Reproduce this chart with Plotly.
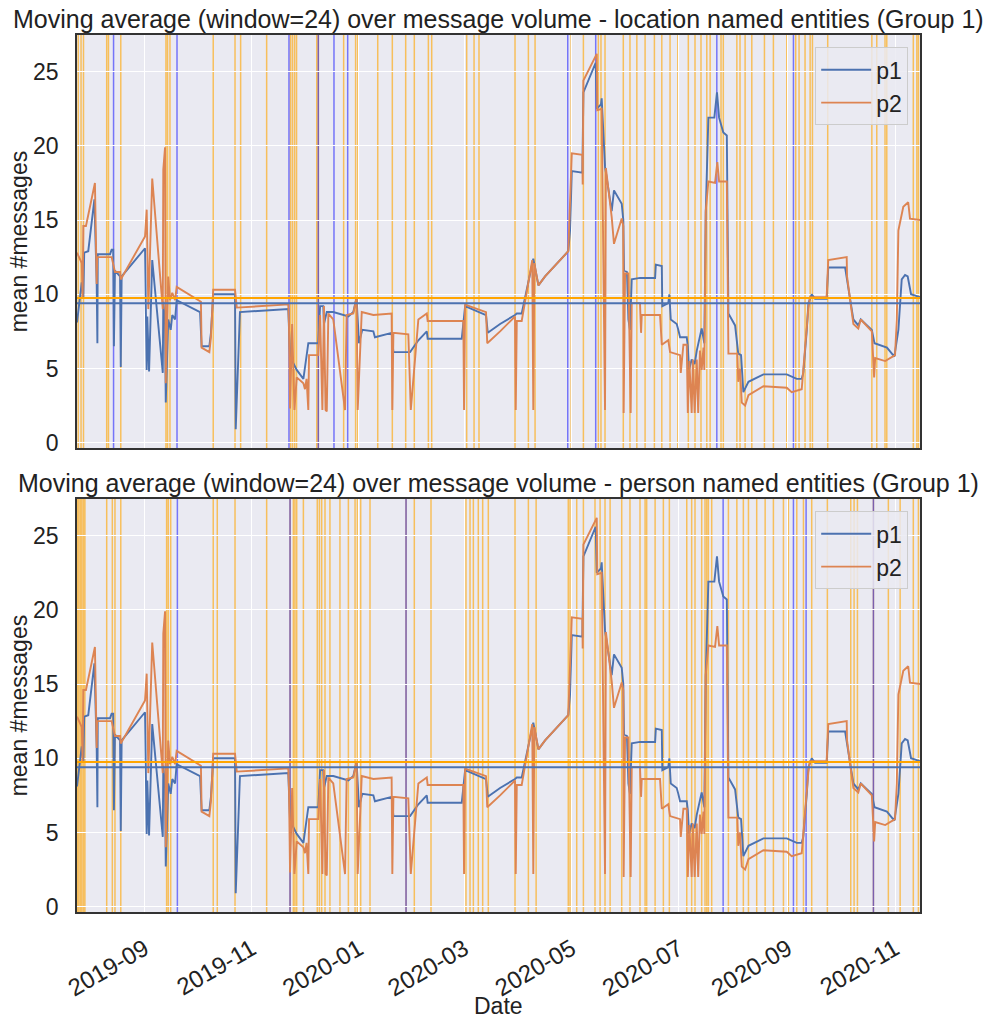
import pandas as pd
import plotly.graph_objects as go

base_date = "2019-09-01"

# x positions stored as days relative to base_date
x_start_day = -38.4
x_end_day = 441.2

p1_day = [-38.4, -36.7, -35.7, -34.8, -34.3, -32.0, -28.5, -27.2, -26.8, -26.6, -19.6, -18.7, -17.8, -17.4, -16.8,
          -13.9, -13.5, -13.0, 0.3, 1.25, 1.6, 2.6, 4.4, 10.4, 10.7, 11.7, 12.1, 13.5, 14.9, 15.8, 17.4, 18.3,
          31.6, 32.5, 36.9, 37.8, 39.1, 51.5, 51.9, 54.3, 79.9, 81.8, 82.8, 86.6, 90.4, 93.2, 98.9, 99.9, 101.7,
          102.1, 103.7, 107.4, 116.0, 118.8, 120.7, 122.0, 123.9, 130.2, 131.1, 140.6, 141.6, 151.1, 155.8, 160.6,
          161.1, 180.5, 182.4, 194.3, 195.3, 202.3, 210.8, 211.8, 214.6, 221.2, 224.1, 227.9, 241.1, 242.1, 243.1,
          249.1, 249.7, 256.7, 257.3, 259.7, 260.1, 262.0, 265.8, 267.1, 271.5, 272.4, 272.8, 274.5, 275.3, 276.2,
          277.2, 281.9, 290.5, 290.9, 294.3, 294.6, 298.0, 298.6, 299.4, 302.8, 303.7, 304.7, 308.5, 309.1, 309.8,
          311.3, 313.0, 314.2, 317.0, 318.5, 319.3, 319.9, 320.8, 324.2, 325.7, 326.9, 329.3, 331.3, 332.2, 336.0,
          337.8, 339.4, 340.7, 343.6, 352.1, 365.4, 371.1, 373.9, 374.8, 376.8, 377.7, 379.6, 381.5, 388.1, 389.0,
          398.6, 399.5, 401.8, 403.3, 406.1, 407.5, 413.8, 415.3, 420.5, 422.4, 426.6, 428.9, 430.8, 432.7, 434.2,
          436.1, 441.2]
p1_val = [8.1, 9.6, 10.8, 9.8, 12.8, 12.9, 16.4, 10.7, 6.7, 12.7, 12.7, 13.0, 13.0, 6.5, 11.6,
          11.2, 5.1, 11.2, 13.1, 4.9, 8.5, 4.8, 12.3, 4.7, 9.5, 8.0, 2.7, 8.3, 7.6, 8.6, 8.3, 9.6,
          8.8, 6.5, 6.5, 7.4, 10.0, 10.0, 0.9, 8.8, 9.0, 9.0, 5.8, 4.9, 4.3, 6.7, 6.7, 9.2, 9.2,
          8.0, 8.8, 8.8, 8.5, 8.8, 9.8, 6.7, 7.6, 7.5, 7.1, 7.4, 6.1, 6.1, 6.9, 7.5,
          7.0, 7.0, 9.2, 8.6, 7.4, 8.0, 8.6, 8.7, 8.7, 12.4, 10.6, 11.2, 12.9, 14.3, 18.3,
          18.2, 23.6, 25.6, 22.5, 22.8, 23.2, 18.6, 15.6, 17.0, 16.1, 15.0, 11.6, 11.5, 8.3, 7.6,
          11.0, 11.1, 11.1, 12.0, 11.9, 9.2, 9.4, 10.0, 8.3, 8.0, 7.6, 7.1, 7.1, 6.5, 4.9,
          5.6, 5.3, 6.2, 7.7, 6.7, 15.5, 18.8, 21.9, 21.9, 23.6, 21.9, 20.9, 20.7, 8.7, 7.9,
          6.0, 5.9, 3.4, 4.1, 4.6, 4.6, 4.3, 4.3, 4.7, 7.6, 9.4, 10.0, 9.7, 9.7, 11.8,
          11.8, 11.2, 9.4, 8.3, 7.9, 8.3, 7.6, 6.7, 6.5, 6.4, 5.8, 7.6, 11.0, 11.3, 11.2,
          10.0, 9.8]

p2_day = [-38.4, -35.7, -35.2, -34.8, -33.3, -28.2, -27.2, -26.9, -18.7, -16.8, -13.9, -13.5, 0.3, 1.25, 2.2,
          4.4, 10.4, 10.7, 11.7, 12.1, 13.5, 14.5, 15.8, 17.4, 18.3, 32.1, 32.5, 36.9, 37.8, 39.1, 51.5, 52.5,
          79.9, 81.8, 82.2, 82.8, 84.0, 85.3, 86.6, 90.4, 91.3, 92.2, 93.2, 93.6, 98.9, 99.9, 101.2, 102.1, 103.0,
          103.7, 104.6, 107.4, 114.1, 115.0, 118.8, 120.7, 121.3, 123.6, 130.2, 140.6, 141.0, 141.6, 150.1, 151.5,
          155.8, 160.6, 161.1, 181.4, 181.8, 182.4, 194.3, 195.0, 202.3, 210.8, 211.2, 211.8, 214.6, 220.6, 221.2,
          221.8, 224.1, 227.9, 241.1, 243.1, 249.1, 249.3, 249.7, 257.3, 257.6, 260.1, 262.0, 262.5, 265.8, 267.1,
          271.5, 272.4, 272.6, 273.4, 275.3, 276.6, 277.2, 281.9, 282.5, 282.9, 293.3, 294.3, 298.0, 299.0, 304.7,
          305.1, 306.6, 308.5, 309.1, 310.0, 311.3, 312.0, 313.0, 314.2, 315.0, 316.0, 317.0, 318.0, 318.5, 319.3,
          320.8, 324.6, 325.9, 326.9, 331.3, 332.2, 337.3, 337.8, 338.8, 339.8, 341.7, 343.6, 352.1, 365.4, 368.2,
          373.9, 377.7, 378.6, 388.1, 389.0, 399.5, 399.7, 401.8, 403.3, 406.1, 407.5, 413.8, 415.1, 415.7, 421.4,
          427.0, 428.0, 428.9, 431.7, 434.5, 435.5, 441.2]
p2_val = [12.8, 12.1, 9.8, 14.6, 14.6, 17.5, 10.7, 12.5, 12.5, 11.5, 11.5, 11.0, 13.9, 15.7, 9.0,
          17.8, 9.0, 18.4, 19.9, 4.0, 11.2, 9.6, 10.1, 9.6, 10.5, 9.5, 6.4, 6.1, 7.1, 10.3, 10.3, 9.1,
          9.3, 9.3, 8.0, 2.3, 8.0, 2.2, 4.4, 4.0, 3.6, 4.3, 2.2, 5.9, 5.9, 8.6, 2.2, 9.2, 2.2,
          2.1, 8.7, 8.3, 2.2, 8.6, 8.7, 9.8, 2.2, 8.8, 8.6, 8.7, 2.2, 7.4, 7.3, 2.2,
          8.3, 8.7, 8.2, 8.2, 2.2, 9.3, 8.8, 6.7, 7.5, 8.5, 2.2, 8.2, 8.2, 12.3, 2.2,
          12.1, 10.6, 11.2, 12.9, 19.5, 19.4, 17.4, 24.4, 26.2, 22.4, 22.5, 2.2, 18.5, 15.2, 13.4,
          15.1, 14.6, 2.0, 11.4, 11.4, 2.0, 9.4, 9.4, 7.4, 8.6, 8.6, 6.6, 6.9, 6.1, 5.9,
          4.7, 6.6, 6.6, 2.0, 5.5, 2.0, 5.6, 2.0, 5.6, 2.0, 6.2, 4.9, 6.4, 4.9, 15.6,
          17.6, 17.5, 18.9, 17.6, 17.6, 6.0, 6.0, 4.1, 5.0, 2.7, 2.5, 3.2, 3.8, 3.7, 3.4,
          3.6, 9.1, 9.8, 9.8, 12.3, 12.5, 11.2, 9.3, 8.0, 7.7, 8.3, 7.5, 4.4, 5.7, 5.5,
          5.9, 8.3, 14.3, 15.9, 16.2, 15.1, 15.0]

p1_mean = 9.4
p2_mean = 9.75

# anomaly markers (days relative to base_date)
orange_top_day = [-37.7, -36.1, -34.7, -21.5, -20.5, -13.5, 12.2, 13.1, 14.5, 39.1, 51.5, 54.7, 69.5, 83.1,
                  84.2, 85.4, 86.5, 98.0, 98.9, 113.3, 120.1, 121.3, 132.7, 141.0, 148.6, 153.5, 161.5, 163.4,
                  183.3, 187.5, 190.3, 210.8, 218.4, 222.2, 242.7, 249.7, 258.2, 259.7, 262.0, 272.4, 276.2,
                  280.1, 284.8, 290.1, 294.3, 299.0, 303.4, 309.4, 313.2, 316.6, 319.9, 321.8, 328.0, 329.3,
                  337.0, 338.8, 341.7, 345.5, 352.7, 357.8, 365.4, 370.5, 372.4, 375.8, 378.7, 380.0, 388.7,
                  413.8, 416.6, 421.3, 422.3, 437.4, 439.4, 440.3]
blue_top_day = [-17.6, 18.5, 82.2, 98.9, 107.8, 115.6, 240.8, 256.7, 325.6, 369.2]

orange_bot_day = [-38.1, -37.3, -36.4, -35.6, -34.7, -33.9, -21.5, -18.3, -16.8, -13.5, 12.6, 13.5, 14.9, 39.1,
                  41.4, 51.5, 69.5, 82.8, 84.7, 85.6, 86.6, 90.4, 98.3, 99.5, 100.8, 102.7, 105.5, 111.2, 116.0,
                  119.8, 121.1, 123.0, 128.3, 148.8, 153.5, 163.0, 182.9, 185.2, 187.1, 189.9, 192.4, 195.6,
                  210.8, 218.4, 222.8, 241.1, 242.1, 245.9, 249.7, 256.3, 259.2, 262.0, 264.9, 271.5, 276.2,
                  281.9, 284.8, 285.7, 290.5, 295.2, 298.6, 308.5, 311.3, 313.2, 317.0, 318.9, 319.9, 320.8,
                  322.7, 332.2, 337.0, 340.7, 343.6, 348.3, 353.1, 357.8, 363.5, 366.3, 371.1, 374.9, 379.6,
                  388.5, 401.8, 403.7, 405.6, 414.7, 423.2, 429.9, 437.4, 440.3]
blue_bot_day = [18.7, 82.8, 148.8, 329.2, 369.2, 376.4, 414.7]

x_tick_vals = ["2019-09-01", "2019-11-01", "2020-01-01", "2020-03-01", "2020-05-01", "2020-07-01",
               "2020-09-01", "2020-11-01"]
x_tick_text = ["2019-09", "2019-11", "2020-01", "2020-03", "2020-05", "2020-07", "2020-09", "2020-11"]
y_tick_vals = [0, 5, 10, 15, 20, 25]
y_range = [-0.36, 27.47]

titles = ["Moving average (window=24) over message volume - location named entities (Group 1)",
          "Moving average (window=24) over message volume - person named entities (Group 1)"]
series_names = ["p1", "p2"]
y_label = "mean #messages"
x_label = "Date"

C_P1 = "#4C72B0"
C_P2 = "#DD8452"
C_ORANGE = "rgba(255,165,0,0.62)"
C_BLUE = "rgba(0,0,255,0.5)"
BG = "#EAEAF2"
FONT = "Liberation Sans, Arial, sans-serif"
FS = 23
FS_TITLE = 25
FS_XTICK = 24


def to_dates(days):
    return pd.Timestamp(base_date) + pd.to_timedelta(pd.Series(days, dtype=float), unit="D")


H = 1018
top_px, bot_px = 35, 912
plot_h = bot_px - top_px
d_top = [(bot_px - 448) / plot_h, 1.0]
d_bot = [0.0, (bot_px - 499) / plot_h]

fig = go.Figure()
axes = [("x", "y", "legend"), ("x2", "y2", "legend2")]
for xa, ya, lg in axes:
    fig.add_trace(go.Scatter(x=to_dates(p1_day), y=p1_val, mode="lines", name=series_names[0],
                             line=dict(color=C_P1, width=1.9), xaxis=xa, yaxis=ya, legend=lg))
    fig.add_trace(go.Scatter(x=to_dates(p2_day), y=p2_val, mode="lines", name=series_names[1],
                             line=dict(color=C_P2, width=1.9), xaxis=xa, yaxis=ya, legend=lg))

shapes = []
vsets = [("x", "y", d_top, orange_top_day, blue_top_day), ("x2", "y2", d_bot, orange_bot_day, blue_bot_day)]
for xa, ya, dom, od, bd in vsets:
    for d, col in [(d, C_ORANGE) for d in od] + [(d, C_BLUE) for d in bd]:
        t = to_dates([d]).iloc[0].isoformat()
        shapes.append(dict(type="line", xref=xa, yref="paper", x0=t, x1=t, y0=dom[0], y1=dom[1],
                           line=dict(color=col, width=1.5), layer="below"))
    for m, col in [(p2_mean, "#FFA500"), (p1_mean, C_P1)]:
        shapes.append(dict(type="line", xref="paper", yref=ya, x0=0, x1=1, y0=m, y1=m,
                           line=dict(color=col, width=2), layer="above"))

x_range = [to_dates([x_start_day]).iloc[0].isoformat(), to_dates([x_end_day]).iloc[0].isoformat()]

axis_common = dict(showgrid=True, gridcolor="white", gridwidth=1.2, zeroline=False, showline=True,
                   linecolor="#333333", linewidth=1.5, mirror=True, ticks="")

fig.update_layout(
    width=987, height=1018,
    margin=dict(l=77, r=67, t=top_px, b=H - bot_px),
    paper_bgcolor="white", plot_bgcolor=BG,
    font=dict(family=FONT, size=FS, color="#222222"),
    shapes=shapes,
    xaxis=dict(axis_common, domain=[0, 1], anchor="y", range=x_range, tickvals=x_tick_vals,
               ticktext=x_tick_text, showticklabels=False),
    yaxis=dict(axis_common, domain=d_top, anchor="x", range=y_range, tickvals=y_tick_vals,
               ticklabelstandoff=12, tickfont=dict(size=FS, color="#222222", family=FONT)),
    xaxis2=dict(axis_common, domain=[0, 1], anchor="y2", range=x_range, tickvals=x_tick_vals,
                ticktext=x_tick_text, tickangle=-30, ticklabelstandoff=12,
                tickfont=dict(size=FS_XTICK, color="#222222", family=FONT)),
    yaxis2=dict(axis_common, domain=d_bot, anchor="x2", range=y_range, tickvals=y_tick_vals,
                ticklabelstandoff=12, tickfont=dict(size=FS, color="#222222", family=FONT)),
    legend=dict(x=0.986, y=0.986, xanchor="right", yanchor="top", bgcolor="rgba(234,234,242,0.85)",
                bordercolor="#CCCCCC", borderwidth=1, font=dict(size=FS), itemwidth=50),
    legend2=dict(x=0.986, y=d_bot[1] - 0.014, xanchor="right", yanchor="top",
                 bgcolor="rgba(234,234,242,0.85)", bordercolor="#CCCCCC", borderwidth=1,
                 font=dict(size=FS), itemwidth=50),
    showlegend=True,
)

annotations = []
for i, t in enumerate(titles):
    ytop = d_top[1] if i == 0 else d_bot[1]
    annotations.append(dict(text=t, xref="paper", yref="paper", x=0.5, y=ytop, xanchor="center",
                            yanchor="bottom", yshift=0, showarrow=False, font=dict(size=FS_TITLE)))
for dom in (d_top, d_bot):
    annotations.append(dict(text=y_label, xref="paper", yref="paper", x=-0.069, y=(dom[0] + dom[1]) / 2,
                            xanchor="center", yanchor="middle", textangle=-90, showarrow=False,
                            font=dict(size=FS)))
annotations.append(dict(text=x_label, xref="paper", yref="paper", x=0.5, y=0, yshift=-94,
                        xanchor="center", yanchor="middle", showarrow=False, font=dict(size=FS)))
fig.update_layout(annotations=annotations)

fig.write_html("out.html")
